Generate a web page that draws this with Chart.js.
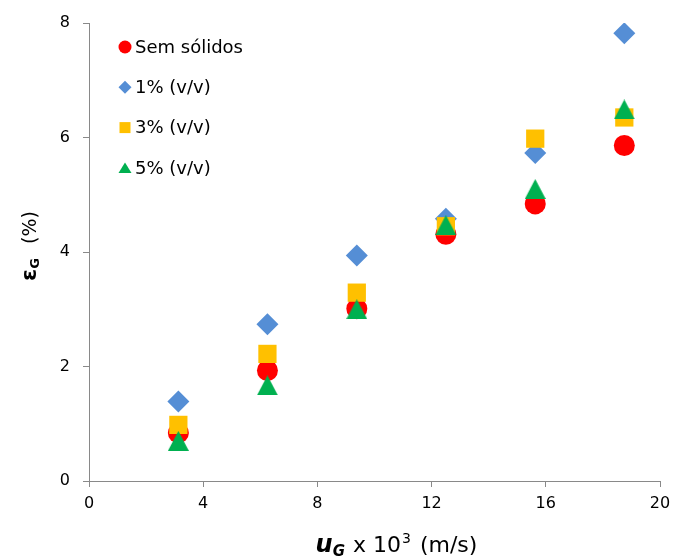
<!DOCTYPE html>
<html lang="pt">
<head>
<meta charset="utf-8">
<title>Retenção gasosa</title>
<script src="https://cdn.jsdelivr.net/npm/chart.js@4.4.1/dist/chart.umd.min.js"></script>
<style>
  html, body { margin: 0; padding: 0; background: #ffffff; }
  #wrap { width: 679px; height: 556px; position: relative; }
</style>
</head>
<body>
<div id="wrap"><canvas id="chart" width="679" height="556"></canvas></div>
<script>
// Superficial gas velocity (x 10^3 m/s)
const uG = [3.13, 6.25, 9.38, 12.5, 15.63, 18.75];

// Gas holdup (%) for each solids loading
const semSolidos = [0.84, 1.93, 3.01, 4.31, 4.84, 5.86];
const solidos1 = [1.39, 2.74, 3.94, 4.58, 5.73, 7.82];
const solidos3 = [0.98, 2.22, 3.29, 4.45, 5.98, 6.35];
const solidos5 = [0.70, 1.67, 3.00, 4.47, 5.10, 6.49];

const seriesNames = ['Sem sólidos', '1% (v/v)', '3% (v/v)', '5% (v/v)'];
const seriesColors = ['#ff0000', '#558ed5', '#ffc000', '#00b050'];

const xTicks = [0, 4, 8, 12, 16, 20];
const yTicks = [0, 2, 4, 6, 8];

const FONT = '"DejaVu Sans", "Liberation Sans", sans-serif';
const AXIS_GREY = '#898989';

// Triangle marker centred on its bounding box
function triangleImage(w, h, color) {
  const c = document.createElement('canvas');
  c.width = w; c.height = h;
  const g = c.getContext('2d');
  g.fillStyle = color;
  g.beginPath();
  g.moveTo(w / 2, 0);
  g.lineTo(w, h);
  g.lineTo(0, h);
  g.closePath();
  g.fill();
  return c;
}

const triBig = triangleImage(21, 20, seriesColors[3]);

function points(ys) {
  return uG.map((x, i) => ({ x: x, y: ys[i] }));
}

// Small legend markers
function legendMarker(ctx, kind, x, y, color) {
  ctx.save();
  ctx.fillStyle = color;
  ctx.beginPath();
  if (kind === 'circle') {
    ctx.arc(x, y, 6.5, 0, Math.PI * 2);
  } else if (kind === 'diamond') {
    ctx.moveTo(x, y - 6.5); ctx.lineTo(x + 6.5, y); ctx.lineTo(x, y + 6.5); ctx.lineTo(x - 6.5, y);
  } else if (kind === 'square') {
    ctx.rect(x - 5.5, y - 5.5, 11, 11);
  } else {
    ctx.moveTo(x, y - 5.5); ctx.lineTo(x + 6.5, y + 5); ctx.lineTo(x - 6.5, y + 5);
  }
  ctx.closePath();
  ctx.fill();
  ctx.restore();
}

// Draws a run of text pieces with individual fonts and vertical shifts
function drawRuns(ctx, runs, x, y) {
  let cx = x;
  runs.forEach(r => {
    ctx.font = r.font;
    cx += r.gap || 0;
    ctx.fillText(r.text, cx, y + (r.dy || 0));
    cx += ctx.measureText(r.text).width;
  });
  return cx;
}

function runsWidth(ctx, runs) {
  let w = 0;
  runs.forEach(r => { ctx.font = r.font; w += (r.gap || 0) + ctx.measureText(r.text).width; });
  return w;
}

const decorations = {
  id: 'decorations',
  afterDraw(chart) {
    const ctx = chart.ctx;
    const area = chart.chartArea;
    ctx.save();
    ctx.fillStyle = '#000000';
    ctx.textBaseline = 'alphabetic';
    ctx.textAlign = 'left';

    // X axis title: uG x 10^3 (m/s)
    const xRuns = [
      { text: 'u', font: 'italic bold 24px ' + FONT },
      { text: 'G', font: 'italic bold 15px ' + FONT, dy: 4 },
      { text: ' x 10', font: '22px ' + FONT, gap: 1 },
      { text: '3', font: '14px ' + FONT, dy: -9, gap: 1 },
      { text: ' (m/s)', font: '22px ' + FONT, gap: 2 }
    ];
    const xw = runsWidth(ctx, xRuns);
    drawRuns(ctx, xRuns, (area.left + area.right) / 2 + 22 - xw / 2, area.bottom + 71);

    // Y axis title: εG (%)
    const yRuns = [
      { text: 'ε', font: 'bold 22px ' + FONT },
      { text: 'G', font: 'bold 13px ' + FONT, dy: 3 },
      { text: '(%)', font: '19px ' + FONT, gap: 14 }
    ];
    const yw = runsWidth(ctx, yRuns);
    ctx.translate(36, (area.top + area.bottom) / 2 - 6);
    ctx.rotate(-Math.PI / 2);
    drawRuns(ctx, yRuns, -yw / 2, 0);
    ctx.restore();

    // Legend inside the plot area
    ctx.save();
    const kinds = ['circle', 'diamond', 'square', 'triangle'];
    ctx.font = '18px ' + FONT;
    ctx.textBaseline = 'middle';
    ctx.fillStyle = '#000000';
    seriesNames.forEach((name, i) => {
      const y = area.top + 24 + i * 40.3;
      legendMarker(ctx, kinds[i], area.left + 36, y, seriesColors[i]);
      ctx.fillText(name, area.left + 46, y + 1);
    });
    ctx.restore();
  }
};

new Chart(document.getElementById('chart'), {
  type: 'scatter',
  data: {
    datasets: [
      { label: seriesNames[0], data: points(semSolidos), pointStyle: 'circle', pointRadius: 10.5,
        backgroundColor: seriesColors[0], borderWidth: 0, order: 4 },
      { label: seriesNames[1], data: points(solidos1), pointStyle: 'rectRot', pointRadius: 11,
        backgroundColor: seriesColors[1], borderWidth: 0, order: 3 },
      { label: seriesNames[2], data: points(solidos3), pointStyle: 'rect', pointRadius: 12.9,
        backgroundColor: seriesColors[2], borderWidth: 0, order: 2 },
      { label: seriesNames[3], data: points(solidos5), pointStyle: triBig, pointRadius: 10,
        backgroundColor: seriesColors[3], borderWidth: 0, order: 1 }
    ]
  },
  options: {
    responsive: false,
    animation: false,
    events: [],
    layout: { padding: { top: 23, right: 19, left: 0, bottom: 0 } },
    plugins: {
      legend: { display: false },
      tooltip: { enabled: false },
      title: { display: false }
    },
    scales: {
      x: {
        type: 'linear',
        min: 0, max: 20,
        afterBuildTicks(scale) { scale.ticks = xTicks.map(v => ({ value: v })); },
        afterFit(scale) { scale.height = 75; },
        grid: { drawOnChartArea: false, drawTicks: true, tickLength: 6, color: AXIS_GREY, lineWidth: 1 },
        border: { color: AXIS_GREY, width: 1 },
        ticks: { color: '#000000', padding: 7, font: { family: FONT, size: 16 }, maxRotation: 0 }
      },
      y: {
        type: 'linear',
        min: 0, max: 8,
        afterBuildTicks(scale) { scale.ticks = yTicks.map(v => ({ value: v })); },
        afterFit(scale) { scale.width = 89; },
        grid: { drawOnChartArea: false, drawTicks: true, tickLength: 6, color: AXIS_GREY, lineWidth: 1 },
        border: { color: AXIS_GREY, width: 1 },
        ticks: { color: '#000000', padding: 13, font: { family: FONT, size: 16 } }
      }
    }
  },
  plugins: [decorations]
});
</script>
</body>
</html>
